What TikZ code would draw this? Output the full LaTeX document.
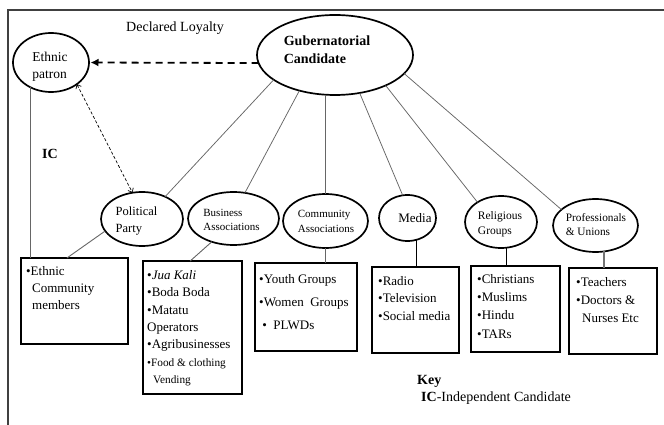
\documentclass[tikz,border=0pt]{standalone}
\usepackage{fontspec}
\setmainfont{Liberation Serif}
\usetikzlibrary{shapes.geometric,arrows.meta}
\begin{document}
\begin{tikzpicture}[x=1pt,y=-1pt,
  oval/.style={ellipse, draw=black, line width=1.7pt, inner sep=0pt, outer sep=0pt},
  itembox/.style={rectangle, draw=black, line width=1.9pt, inner sep=0pt, outer sep=0pt, anchor=north west},
  lbl/.style={align=left, inner sep=0pt},
  onelbl/.style={anchor=base, inner sep=0pt},
  boxtext/.style={anchor=north west, align=left, inner sep=0pt},
  spoke/.style={draw=black!60, line width=0.75pt},
  stem/.style={draw=black!60, line width=0.9pt},
  loyal/.style={draw=black, line width=1.8pt, dash pattern=on 7pt off 5pt, -{Latex[length=8pt,width=8pt]}, shorten >=1.5pt},
  link/.style={draw=black, line width=0.7pt, dash pattern=on 3pt off 2pt, {Straight Barb[length=3.5pt,width=6pt]}-{Straight Barb[length=3.5pt,width=6pt]}},
  frame/.style={draw=black!75, line width=1.4pt}
]
\useasboundingbox (0,0) rectangle (664,425);
\fill[white] (0,0) rectangle (664,425);
\draw[frame] (8,425) -- (8,10) -- (664,10);

% ellipses
\node[oval, minimum width=76pt, minimum height=59pt] (ep) at (51,62.5) {};
\node[oval, minimum width=156pt, minimum height=80pt] (gc) at (335,55) {};
\node[oval, minimum width=82pt, minimum height=54pt] (pp) at (142,219) {};
\node[oval, minimum width=91pt, minimum height=53pt] (ba) at (233.5,218.5) {};
\node[oval, minimum width=85pt, minimum height=54pt] (ca) at (325.5,221) {};
\node[oval, minimum width=57pt, minimum height=46pt] (md) at (407.5,218) {};
\node[oval, minimum width=72pt, minimum height=52pt] (rg) at (501,222) {};
\node[oval, minimum width=85pt, minimum height=53pt] (pu) at (595.5,225.5) {};

% ellipse labels
\node[lbl, font=\fontsize{13.5}{17}\selectfont] (ept) at (50,66.4) {Ethnic\\patron};
\node[lbl, font=\bfseries\fontsize{14}{18}\selectfont] (gct) at (327,49.3) {Gubernatorial\\Candidate};
\node[lbl, font=\fontsize{12.5}{17}\selectfont] (ppt) at (136.5,220.6) {Political\\Party};
\node[lbl, font=\fontsize{11}{14}\selectfont] (bat) at (231.5,220) {Business\\Associations};
\node[lbl, font=\fontsize{11}{15}\selectfont] (cat) at (326,221.8) {Community\\Associations};
\node[onelbl, font=\fontsize{13}{16}\selectfont] (mdt) at (415,222) {Media};
\node[lbl, font=\fontsize{11.5}{15}\selectfont] (rgt) at (500,223.8) {Religious\\Groups};
\node[lbl, font=\fontsize{11.3}{14}\selectfont] (put) at (596,224.2) {Professionals\\\& Unions};

% boxes
\node[itembox, minimum width=107pt, minimum height=86pt] (ecb) at (21,258) {};
\node[itembox, minimum width=99pt, minimum height=133pt] (bb) at (143,261) {};
\node[itembox, minimum width=102pt, minimum height=88pt] (cb) at (255,263) {};
\node[itembox, minimum width=87pt, minimum height=86pt] (mb) at (372,267) {};
\node[itembox, minimum width=89pt, minimum height=86pt] (rb) at (471,266) {};
\node[itembox, minimum width=88pt, minimum height=86pt] (pb) at (569,268) {};

% box texts
\node[boxtext, font=\fontsize{13}{17}\selectfont] (ecbt) at (26,266.1)
  {•Ethnic\\\hspace*{6pt}Community\\\hspace*{6pt}members};
\node[boxtext, font=\fontsize{13}{17.4}\selectfont] (bbt) at (147,270.1)
  {•\textit{Jua Kali}\\•Boda Boda\\•Matatu\\Operators\\•Agribusinesses\\{\fontsize{11.3}{17.4}\selectfont •Food \& clothing}\\{\fontsize{11.3}{17.4}\selectfont\hspace*{6pt}Vending}};
\node[boxtext, font=\fontsize{13}{23}\selectfont] (cbt) at (259,274.1)
  {•Youth Groups\\•Women\ \ Groups\\\ •\ \ PLWDs};
\node[boxtext, font=\fontsize{13}{17.5}\selectfont] (mbt) at (378,276.1)
  {•Radio\\•Television\\•Social media};
\node[boxtext, font=\fontsize{13}{18.3}\selectfont] (rbt) at (477,274.1)
  {•Christians\\•Muslims\\•Hindu\\•TARs};
\node[boxtext, font=\fontsize{13}{18}\selectfont] (pbt) at (576,277.1)
  {•Teachers\\•Doctors \&\\\hspace*{6pt}Nurses Etc};

% other labels
\node[onelbl, font=\fontsize{14}{17}\selectfont] (dl) at (175,32) {Declared Loyalty};
\node[onelbl, font=\bfseries\fontsize{14}{17}\selectfont] (ic) at (50,159) {IC};
\node[anchor=base west, inner sep=0pt, font=\bfseries\fontsize{14}{17}\selectfont] (key) at (417,384) {Key};
\node[anchor=base west, inner sep=0pt, font=\fontsize{14}{17}\selectfont] (keyic) at (421,401.7) {\textbf{IC}-Independent Candidate};

% connectors
\draw[loyal] (gc.186) -- (ep.east);
\draw[link] (ep.-40) -- (pp.110);
\draw[stem] (ep.230) -- (ep.230 |- ecb.north);

\draw[spoke] (gc.202) -- (pp.44);
\draw[spoke] (gc.225) -- (ba.66);
\draw[spoke] (ca.north |- gc.south) -- (ca.north);
\draw[spoke] (gc.303) -- (md.102);
\draw[spoke] (gc.329) -- (rg.140);
\draw[spoke] (gc.345) -- (pu.155);

\draw[stem] (pp.198) -- (ecb.100);
\draw[stem] (ba.227) -- (bb.92);
\draw[stem, line width=1.3pt] (ca.south) -- (ca.south |- cb.north);
\draw[draw=black, line width=1pt] (md.-67) -- (md.-67 |- mb.north);
\draw[draw=black, line width=1pt] (rg.-77) -- (rg.-77 |- rb.north);
\draw[draw=black!55, line width=2pt] (pu.-72) -- (pu.-72 |- pb.north);
\end{tikzpicture}
\end{document}
